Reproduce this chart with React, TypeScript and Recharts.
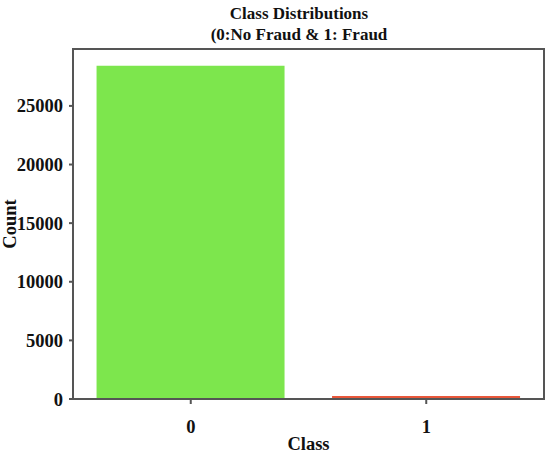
import { BarChart, Bar, XAxis, YAxis, Cell, ReferenceArea } from 'recharts';

const SERIF = '"Liberation Serif", "Times New Roman", serif';
const AXIS = '#555555';

const classes = ['0', '1'];
const counts = [28432, 49];
const barColors = ['#7de64d', '#e8573a'];
const yTicks = [0, 5000, 10000, 15000, 20000, 25000];
const yMax = 29854;
const titleLines = ['Class Distributions', '(0:No Fraud & 1: Fraud'];

const data = classes.map((c, i) => ({ name: c, count: counts[i] }));

const tickStyle = { fontFamily: SERIF, fontWeight: 700, fontSize: 18.5, fill: '#111' };

export default function App() {
  return (
    <div style={{ position: 'relative', width: 550, height: 453, background: '#fff' }}>
      <style>{'body{margin:0}'}</style>
      <div
        style={{
          position: 'absolute',
          left: 0,
          top: 3,
          width: 598,
          textAlign: 'center',
          fontFamily: SERIF,
          fontWeight: 700,
          fontSize: 17,
          lineHeight: '21px',
          color: '#111',
        }}
      >
        {titleLines.map((t) => (
          <div key={t}>{t}</div>
        ))}
      </div>
      <BarChart
        width={550}
        height={453}
        data={data}
        margin={{ top: 49, right: 6, bottom: 0, left: 0 }}
        barCategoryGap="10%"
      >
        <XAxis
          dataKey="name"
          height={54}
          axisLine={{ stroke: AXIS, strokeWidth: 2 }}
          tickLine={{ stroke: AXIS, strokeWidth: 2 }}
          tickSize={5}
          tickMargin={16}
          tick={tickStyle}
          label={{
            value: 'Class',
            position: 'insideBottom',
            offset: 3,
            style: { ...tickStyle },
          }}
        />
        <YAxis
          width={73}
          domain={[0, yMax]}
          ticks={yTicks}
          interval={0}
          allowDataOverflow
          axisLine={{ stroke: AXIS, strokeWidth: 2 }}
          tickLine={{ stroke: AXIS, strokeWidth: 2 }}
          tickSize={4}
          tickMargin={6}
          tick={tickStyle}
          label={{
            value: 'Count',
            angle: -90,
            position: 'insideLeft',
            offset: 9,
            style: { ...tickStyle, textAnchor: 'middle' },
          }}
        />
        <Bar dataKey="count" minPointSize={3} isAnimationActive={false}>
          {data.map((d, i) => (
            <Cell key={d.name} fill={barColors[i]} />
          ))}
        </Bar>
        <ReferenceArea
          y1={0}
          y2={yMax}
          fill="none"
          stroke={AXIS}
          strokeWidth={2}
          ifOverflow="visible"
        />
      </BarChart>
    </div>
  );
}
